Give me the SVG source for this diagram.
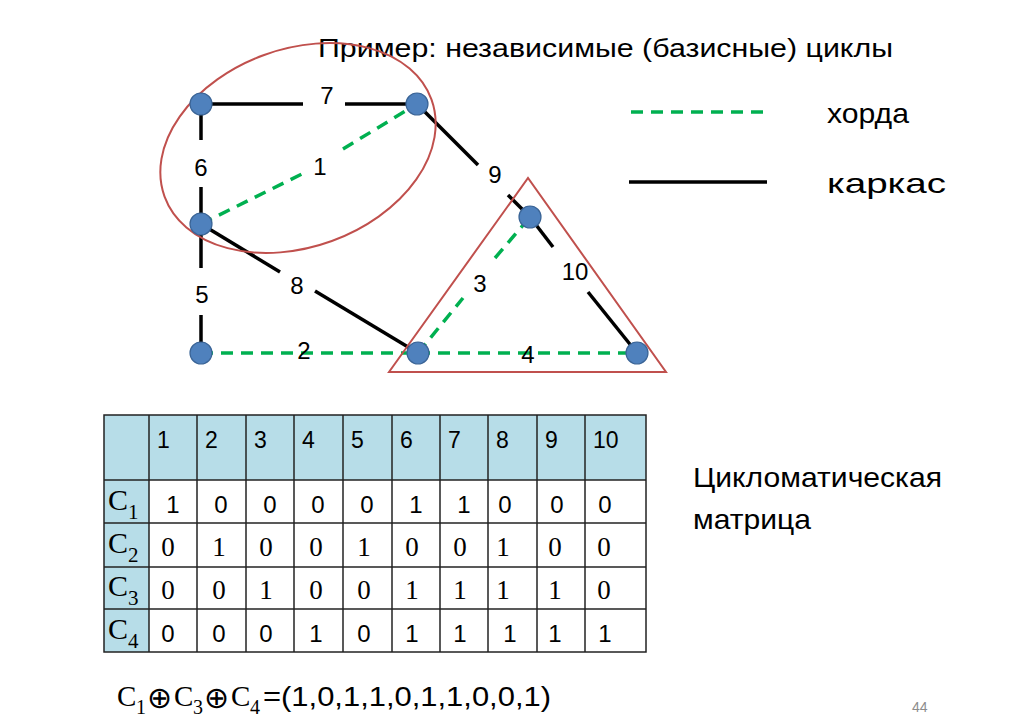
<svg xmlns="http://www.w3.org/2000/svg" width="1024" height="723" viewBox="0 0 1024 723">
<style>
.s{font-family:"Liberation Sans","Open Sans",sans-serif;fill:#000}
.r{font-family:"Liberation Serif","DejaVu Serif",serif;fill:#000}
.op{font-family:"DejaVu Sans",sans-serif;fill:#000;font-size:30px}
.lbl{font-size:24px;text-anchor:middle}
.tree{stroke:#000;stroke-width:3.5;fill:none}
.chord{stroke:#00b050;stroke-width:3.5;fill:none;stroke-dasharray:12 8}
.cyc{stroke:#c0504d;stroke-width:2;fill:none}
.node{fill:#4f81bd;stroke:#3a6496;stroke-width:1.2}
.hdr{fill:#b7dde8}
.grid{stroke:#222;stroke-width:1.5;fill:none}
.hv{font-size:23px}
.cv{font-size:24px;text-anchor:middle}
.rv{font-size:27px;text-anchor:middle}
</style>
<rect width="1024" height="723" fill="#fff"/>
<text class="s" x="318" y="57" font-size="26" textLength="575" lengthAdjust="spacingAndGlyphs">Пример: независимые (базисные) циклы</text>

<g id="connectors">
  <line class="tree" x1="201" y1="104" x2="303" y2="104"/>
  <line class="tree" x1="345" y1="104" x2="417" y2="104"/>
  <line class="tree" x1="201" y1="104" x2="201" y2="140"/>
  <line class="tree" x1="201" y1="187" x2="201" y2="224"/>
  <line class="tree" x1="201" y1="224" x2="201" y2="268"/>
  <line class="tree" x1="201" y1="315" x2="201" y2="353"/>
  <line class="tree" x1="201" y1="224" x2="280" y2="272"/>
  <line class="tree" x1="315" y1="291" x2="418" y2="353"/>
  <line class="tree" x1="417" y1="104" x2="478" y2="165"/>
  <line class="tree" x1="508" y1="195" x2="530" y2="217"/>
  <line class="tree" x1="530" y1="217" x2="553" y2="247"/>
  <line class="tree" x1="588" y1="292" x2="637" y2="353"/>
  <line class="chord" x1="201" y1="224" x2="304" y2="173"/>
  <line class="chord" x1="343" y1="149" x2="417" y2="104"/>
  <line class="chord" x1="201" y1="353" x2="418" y2="353"/>
  <line class="chord" x1="418" y1="353" x2="463" y2="298"/>
  <line class="chord" x1="495" y1="258" x2="530" y2="217"/>
  <line class="chord" x1="418" y1="353" x2="637" y2="353"/>
</g>

<g id="cycles">
  <ellipse class="cyc" cx="298" cy="148" rx="142" ry="99" transform="rotate(-20 298 148)"/>
  <polygon class="cyc" points="389,372 528,178 666,372"/>
</g>

<g id="edge-labels">
  <text class="s lbl" x="327" y="104">7</text>
  <text class="s lbl" x="201" y="176">6</text>
  <text class="s lbl" x="320" y="175">1</text>
  <text class="s lbl" x="495" y="183">9</text>
  <text class="s lbl" x="297" y="294">8</text>
  <text class="s lbl" x="202" y="303">5</text>
  <text class="s lbl" x="480" y="292">3</text>
  <text class="s lbl" x="575" y="280">10</text>
  <text class="s lbl" x="304" y="359">2</text>
  <text class="s lbl" x="528" y="363">4</text>
</g>

<g id="n1"><circle class="node" cx="201" cy="104" r="11"/></g>
<g id="n2"><circle class="node" cx="417" cy="104" r="11"/></g>
<g id="n3"><circle class="node" cx="201" cy="224" r="11"/></g>
<g id="n4"><circle class="node" cx="201" cy="353" r="11"/></g>
<g id="n5"><circle class="node" cx="418" cy="353" r="11"/></g>
<g id="n6"><circle class="node" cx="530" cy="217" r="11"/></g>
<g id="n7"><circle class="node" cx="637" cy="353" r="11"/></g>

<g id="legend">
  <line class="chord" x1="631" y1="112" x2="769" y2="112" stroke-width="3"/>
  <line class="tree" x1="629" y1="182" x2="767" y2="182" stroke-width="3"/>
  <text class="s" x="827" y="123" font-size="28" textLength="82" lengthAdjust="spacingAndGlyphs">хорда</text>
  <text class="s" x="827" y="193" font-size="28" textLength="119" lengthAdjust="spacingAndGlyphs">каркас</text>
</g>

<g id="matrix">
  <rect class="hdr" x="104" y="415" width="542" height="65"/>
  <rect class="hdr" x="104" y="480" width="45" height="172"/>
  <g class="grid">
    <rect x="104" y="415" width="542" height="237"/>
    <line x1="104" y1="480" x2="646" y2="480"/>
    <line x1="104" y1="523" x2="646" y2="523"/>
    <line x1="104" y1="567" x2="646" y2="567"/>
    <line x1="104" y1="609" x2="646" y2="609"/>
    <line x1="149" y1="415" x2="149" y2="652"/>
    <line x1="197" y1="415" x2="197" y2="652"/>
    <line x1="246" y1="415" x2="246" y2="652"/>
    <line x1="294" y1="415" x2="294" y2="652"/>
    <line x1="343" y1="415" x2="343" y2="652"/>
    <line x1="392" y1="415" x2="392" y2="652"/>
    <line x1="440" y1="415" x2="440" y2="652"/>
    <line x1="488" y1="415" x2="488" y2="652"/>
    <line x1="537" y1="415" x2="537" y2="652"/>
    <line x1="585" y1="415" x2="585" y2="652"/>
  </g>
  <g class="s hv">
    <text x="157" y="448">1</text><text x="205" y="448">2</text><text x="254" y="448">3</text>
    <text x="302" y="448">4</text><text x="351" y="448">5</text><text x="400" y="448">6</text>
    <text x="448" y="448">7</text><text x="496" y="448">8</text><text x="545" y="448">9</text>
    <text x="593" y="448">10</text>
  </g>
  <g class="r" font-size="30">
    <text x="108" y="510">C<tspan font-size="21" dy="9">1</tspan></text>
    <text x="108" y="553">C<tspan font-size="21" dy="9">2</tspan></text>
    <text x="108" y="596">C<tspan font-size="21" dy="9">3</tspan></text>
    <text x="108" y="639">C<tspan font-size="21" dy="9">4</tspan></text>
  </g>
  <g class="s cv">
    <text x="173" y="513">1</text><text x="221" y="513">0</text><text x="270" y="513">0</text>
    <text x="318" y="513">0</text><text x="367" y="513">0</text><text x="416" y="513">1</text>
    <text x="464" y="513">1</text><text x="505" y="513">0</text><text x="557" y="513">0</text>
    <text x="605" y="513">0</text>
  </g>
  <g class="r rv">
    <text x="168" y="556">0</text><text x="219" y="556">1</text><text x="266" y="556">0</text>
    <text x="316" y="556">0</text><text x="364" y="556">1</text><text x="412" y="556">0</text>
    <text x="460" y="556">0</text><text x="503" y="556">1</text><text x="555" y="556">0</text>
    <text x="604" y="556">0</text>
    <text x="168" y="599">0</text><text x="219" y="599">0</text><text x="266" y="599">1</text>
    <text x="316" y="599">0</text><text x="364" y="599">0</text><text x="412" y="599">1</text>
    <text x="460" y="599">1</text><text x="503" y="599">1</text><text x="555" y="599">1</text>
    <text x="604" y="599">0</text>
  </g>
  <g class="s cv">
    <text x="168" y="642">0</text><text x="219" y="642">0</text><text x="266" y="642">0</text>
    <text x="316" y="642">1</text><text x="364" y="642">0</text><text x="412" y="642">1</text>
    <text x="460" y="642">1</text><text x="510" y="642">1</text><text x="555" y="642">1</text>
    <text x="605" y="642">1</text>
  </g>
</g>

<text class="s" x="693" y="487" font-size="28" textLength="249" lengthAdjust="spacingAndGlyphs">Цикломатическая</text>
<text class="s" x="693" y="529" font-size="28" textLength="118" lengthAdjust="spacingAndGlyphs">матрица</text>

<g id="formula">
  <text class="r" x="117" y="706" font-size="29">C</text>
  <text class="r" x="136" y="714" font-size="20">1</text>
  <text class="op" x="147" y="708">⊕</text>
  <text class="r" x="174" y="706" font-size="29">C</text>
  <text class="r" x="193" y="714" font-size="20">3</text>
  <text class="op" x="204" y="708">⊕</text>
  <text class="r" x="231" y="706" font-size="29">C</text>
  <text class="r" x="250" y="714" font-size="20">4</text>
  <text class="s" x="263" y="706" font-size="28" textLength="288" lengthAdjust="spacingAndGlyphs">=(1,0,1,1,0,1,1,0,0,1)</text>
</g>

<text class="s" x="912" y="712" font-size="14" style="fill:#8c8c8c">44</text>
</svg>
